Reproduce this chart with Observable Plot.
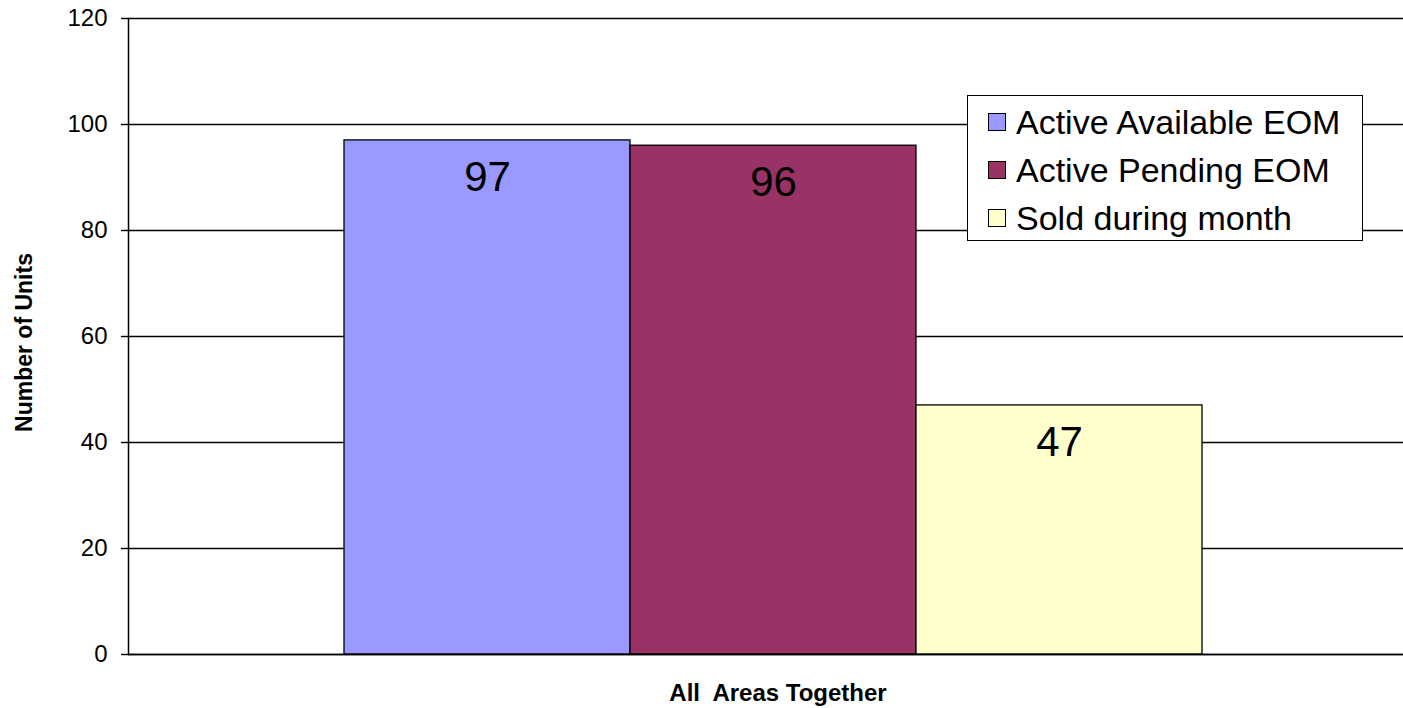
<!DOCTYPE html>
<html>
<head>
<meta charset="utf-8">
<script src="https://cdn.jsdelivr.net/npm/d3@7"></script>
<script src="https://cdn.jsdelivr.net/npm/@observablehq/plot@0.6"></script>
<style>
  html, body { margin: 0; padding: 0; background: #fff; }
  #wrap { position: relative; width: 1403px; height: 708px; font-family: Arial, "Liberation Sans", sans-serif; }
  #legend { position: absolute; left: 967px; top: 95px; width: 396px; height: 146px; border: 1.5px solid #000; background: #fff; box-sizing: border-box; padding-top: 2px; }
  .row { display: flex; align-items: center; height: 48px; font-size: 34px; color: #000; }
  .sw { width: 16px; height: 16px; border: 1.5px solid #000; margin-left: 20px; margin-right: 10px; }
</style>
</head>
<body>
<div id="wrap"></div>
<script>
const series = ["Active Available EOM", "Active Pending EOM", "Sold during month"];
const values = [97, 96, 47];
const colors = ["#9999FF", "#993366", "#FFFFCC"];
const category = "All\u00a0 Areas Together";
const yTicks = [0, 20, 40, 60, 80, 100, 120];

const data = series.map((s, i) => ({series: s, value: values[i]}));

const chart = Plot.plot({
  width: 1403,
  height: 708,
  marginLeft: 128,
  marginRight: 0,
  marginTop: 18,
  marginBottom: 54,
  style: {fontFamily: 'Arial, "Liberation Sans", sans-serif', background: "#fff", color: "#000"},
  x: {type: "band", domain: series, range: [343, 1203], padding: 0, axis: null},
  y: {domain: [0, 120], ticks: yTicks},
  color: {domain: series, range: colors},
  marks: [
    Plot.gridY(yTicks, {stroke: "#000", strokeOpacity: 1, strokeWidth: 1.4}),
    Plot.axisY(yTicks, {tickSize: 7, tickPadding: 14, fontSize: 24, label: null, stroke: "#000", strokeWidth: 1.4}),
    Plot.barY(data, {x: "series", y: "value", fill: "series", stroke: "#000", strokeWidth: 1.3}),
    Plot.text(data, {x: "series", y: "value", text: d => String(d.value), dy: 37, fontSize: 42, fill: "#000"}),
    Plot.frame({anchor: "left", stroke: "#000", strokeWidth: 1.5}),
    Plot.ruleY([0], {stroke: "#000", strokeWidth: 1.5}),
    Plot.text([category], {frameAnchor: "bottom", dx: 12, dy: 46, fontSize: 24, fontWeight: "bold", fill: "#000"}),
    Plot.text(["Number of Units"], {frameAnchor: "left", textAnchor: "middle", dx: -104, dy: 6, rotate: -90, fontSize: 23, fontWeight: "bold", fill: "#000"})
  ]
});

const wrap = document.getElementById("wrap");
wrap.appendChild(chart);

const legend = document.createElement("div");
legend.id = "legend";
series.forEach((s, i) => {
  const row = document.createElement("div");
  row.className = "row";
  const sw = document.createElement("span");
  sw.className = "sw";
  sw.style.background = colors[i];
  const label = document.createElement("span");
  label.textContent = s;
  row.appendChild(sw);
  row.appendChild(label);
  legend.appendChild(row);
});
wrap.appendChild(legend);
</script>
</body>
</html>
